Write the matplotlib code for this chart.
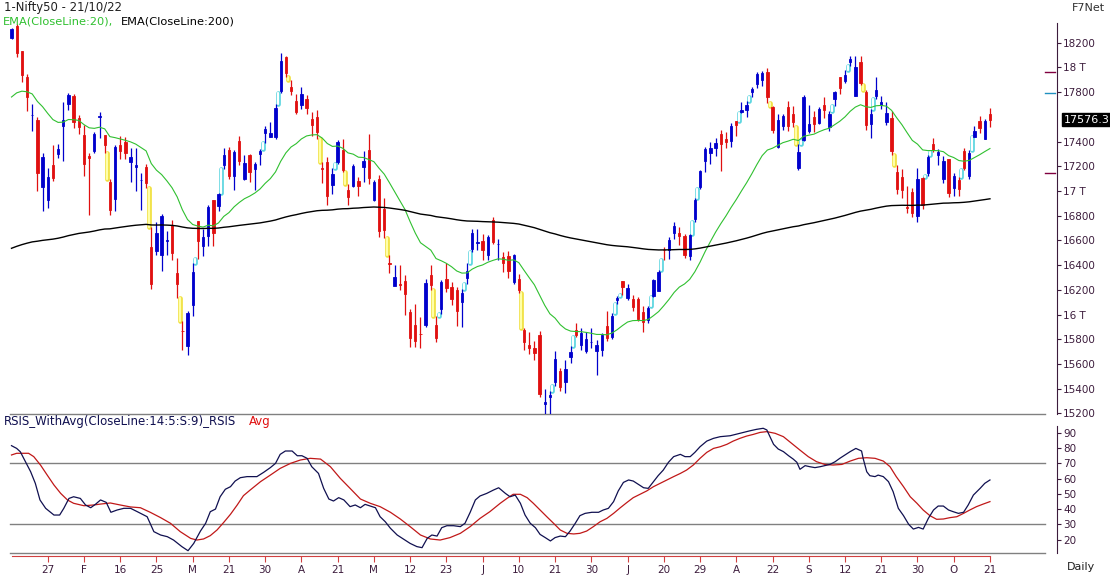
import numpy as np
import matplotlib.pyplot as plt

# ---- data: Nifty50 daily, 17 Jan 2022 .. 21 Oct 2022 (trading days) ----
opens = [
    18235, 18337, 18129, 17921, 17613, 17575, 17030, 16929, 17209, 17301,
    17529, 17706, 17767, 17590, 17456, 17279, 17320, 17600, 17451, 17076,
    16933, 17370, 17396, 17236, 17192, 17092, 17194, 16549, 16515, 16481,
    16593, 16723, 16339, 15868, 15747, 16078, 16758, 16557, 16633, 16923,
    16876, 17209, 17330, 17120, 17405, 17094, 17289, 17181, 17297, 17468,
    17436,
    17437, 17810, 18080, 17842, 17724, 17699, 17740, 17584, 17599, 17183,
    17234, 17045, 17234, 17329, 17009, 17043, 17079, 17190, 17329,
    16925, 17097, 16854, 16415, 16227, 16249, 16270, 16021, 15917, 15845,
    15912, 16318, 15917, 16043, 16290, 16225, 16197, 16105, 16296, 16527,
    16578,
    16594, 16481, 16761, 16570, 16469, 16474, 16263, 16284, 15877, 15750,
    15729, 15832, 15272, 15334, 15455, 15545, 15452, 15657, 15874, 15757,
    15701, 15774,
    15703, 15710, 15909, 15818, 16114, 16274, 16137, 16126, 16128, 16018,
    15954, 16151, 16187, 16523, 16523, 16661, 16662, 16632, 16475, 16775,
    17031,
    17243, 17310, 17349, 17463, 17424, 17402, 17566, 17641, 17659, 17797,
    17868, 17898, 17966, 17682, 17357, 17525, 17679, 17619, 17188, 17414,
    17485, 17599, 17546, 17696, 17519, 17748, 17923, 17890, 18044, 17771,
    18046, 17797, 17540, 17770, 17698, 17560, 17593, 17157, 17110, 16870,
    16993, 16798,
    17102, 17147, 17379, 17287, 17094, 17256, 17025, 17087, 17322, 17122,
    17438, 17568, 17423, 17622,
]
highs = [
    18321, 18350, 18129, 17943, 17707, 17600, 17309, 17182, 17373, 17380,
    17722, 17794, 17781, 17617, 17536, 17306, 17477, 17640, 17454, 17099,
    17375, 17443, 17438, 17351, 17351, 17148, 17220, 16705, 16748, 16815,
    16678, 16768, 16456, 15945, 16028, 16418, 16757, 16694, 16888, 16927,
    16987, 17344, 17353, 17331, 17442, 17291, 17295, 17235, 17343, 17522,
    17559,
    17703, 18114, 18095, 17901, 17787, 17842, 17779, 17639, 17652, 17238,
    17275, 17186, 17414, 17422, 17054, 17220, 17110, 17322, 17461,
    17092, 17132, 16945, 16484, 16404, 16404, 16318, 16041, 16084, 15977,
    16284, 16399, 15984, 16283, 16415, 16262, 16223, 16204, 16415, 16695,
    16690,
    16649, 16646, 16793, 16610, 16503, 16514, 16492, 16325, 15887, 15859,
    15783, 15863, 15400, 15382, 15708, 15565, 15628, 15749, 15928, 15892,
    15861, 15891,
    15793, 15852, 16025, 16011, 16150, 16275, 16248, 16158, 16140, 16070,
    16066, 16287, 16360, 16550, 16626, 16752, 16706, 16652, 16653, 16946,
    17172,
    17356, 17392, 17431, 17490, 17474, 17548, 17566, 17719, 17724, 17839,
    17965, 17969, 17992, 17690, 17625, 17626, 17726, 17685, 17381, 17777,
    17695, 17643, 17683, 17764, 17650, 17807, 17925, 17981, 18088, 18091,
    18096, 17820, 17667, 17919, 17772, 17722, 17643, 17211, 17176, 17037,
    17026, 17188,
    17114, 17287, 17429, 17337, 17280, 17261, 17142, 17112, 17348, 17328,
    17527, 17607, 17584, 17670,
]
lows = [
    18228, 18085, 17884, 17649, 17486, 16997, 16836, 16866, 17077, 17264,
    17244, 17658, 17511, 17462, 17119, 16809, 17306, 17427, 17303, 16809,
    16840, 17257, 17256, 17070, 16999, 16844, 17026, 16203, 16478, 16356,
    16478, 16442, 16133, 15711, 15672, 15990, 16447, 16470, 16555, 16556,
    16837, 17175, 17096, 17007, 17213, 17091, 17076, 17004, 17212, 17387,
    17435,
    17423, 17791, 17921, 17779, 17623, 17664, 17623, 17442, 17419, 17067,
    16888, 16978, 17216, 17150, 16888, 17032, 16958, 17071, 17054,
    16917, 16624, 16623, 16340, 16243, 16197, 15993, 15736, 15736, 15728,
    15900, 16202, 15775, 16003, 16185, 16078, 15904, 15903, 16246, 16506,
    16521,
    16438, 16444, 16567, 16444, 16347, 16293, 16243, 16172, 15711, 15679,
    15634, 15335, 15183, 15191, 15419, 15385, 15367, 15611, 15815, 15710,
    15688, 15729,
    15511, 15661, 15785, 15800, 16082, 16158, 16115, 16031, 15950, 15858,
    15928, 16142, 16187, 16440, 16446, 16611, 16564, 16457, 16438, 16748,
    17018,
    17154, 17216, 17279, 17161, 17348, 17359, 17442, 17631, 17597, 17764,
    17833, 17853, 17710, 17467, 17345, 17493, 17487, 17519, 17167, 17401,
    17468, 17476, 17540, 17587, 17485, 17691, 17786, 17871, 18015, 17771,
    17861, 17497, 17429, 17744, 17663, 17532, 17291, 16979, 16942, 16820,
    16789, 16747,
    16855, 17117, 17315, 17210, 17064, 16950, 16960, 16956, 17169, 17098,
    17434, 17472, 17421, 17520,
]
closes = [
    18308, 18113, 17938, 17757, 17617, 17149, 17278, 17110, 17102, 17340,
    17577, 17780, 17560, 17516, 17214, 17266, 17464, 17606, 17375, 16843,
    17352, 17322, 17304, 17276, 17207, 17092, 17063, 16248, 16658, 16794,
    16606, 16498, 16245, 15863, 16013, 16345, 16594, 16630, 16871, 16663,
    16975, 17287, 17118, 17316, 17246, 17223, 17153, 17222, 17325, 17498,
    17465,
    17670, 18053, 17957, 17807, 17640, 17784, 17675, 17530, 17476, 17174,
    16959, 17137, 17393, 17172, 16954, 17201, 17039, 17245, 17103,
    17069, 16678, 16683, 16411, 16302, 16240, 16167, 15808, 15782, 15842,
    16259, 16240, 15809, 16266, 16215, 16126, 16026, 16171, 16352, 16661,
    16585,
    16523, 16628, 16584, 16570, 16416, 16356, 16478, 16202, 15774, 15732,
    15692, 15360, 15294, 15350, 15639, 15413, 15557, 15699, 15832, 15850,
    15799, 15780,
    15752, 15835, 15810, 15990, 16133, 16220, 16216, 16058, 15967, 15938,
    16049, 16279, 16341, 16521, 16606, 16719, 16632, 16484, 16642, 16930,
    17158,
    17340, 17345, 17388, 17382, 17397, 17525, 17535, 17659, 17698, 17825,
    17944, 17956, 17758, 17491, 17577, 17605, 17522, 17559, 17313, 17760,
    17542, 17539, 17666, 17656, 17624, 17798, 17833, 17936, 18070, 18004,
    17877, 17531, 17622, 17816, 17718, 17630, 17327, 17016, 17007, 16858,
    16818, 17094,
    16887, 17274, 17331, 17315, 17241, 16983, 17124, 17014, 17186, 17311,
    17486, 17512, 17563, 17576.3,
]
ema20_first = 17760     # EMA values on the first bar
ema200_first = 16536

# smoothed RSI and its average (bar index, value)
rsi_x = [0, 1, 1.7, 2.7, 3.7, 4.6, 5.5, 6.6, 8.2, 9.3, 10.1, 11.1, 12, 13.3, 14.3, 15.3, 16.2, 17.2,
         18.3, 19.2, 20.4, 21.7, 23, 24.3, 26.2, 27.5, 28.8, 30.1, 31.3, 32.9, 34.1, 35.2, 36.5, 37.5,
         38.4, 39.4, 40.3, 41.3, 42.3, 43.2, 44.2, 45.5, 47.4, 48.7, 50, 51, 51.9, 52.9, 54.2, 55.2,
         56.1, 57.1, 58, 59.3, 60.3, 61.3, 62.2, 63.2, 64.2, 65.4, 66.4, 67.4, 68.3, 69.3, 70.3, 71.2,
         72.2, 73.2, 74.5, 75.7, 77, 78.3, 79.3, 80.3, 81.2, 82.2, 83.1, 84.1, 85.4, 86.7, 87.6, 88.6,
         89.6, 90.5, 91.8, 93.1, 94.1, 95.4, 96.3, 97.3, 98.3, 99.2, 100.2, 101.2, 102.1, 103.1, 104.1,
         105, 106, 107, 107.9, 108.9, 109.8, 110.8, 112.1, 113.4, 114.3, 115.3, 116.3, 117.2, 118.2,
         119.2, 120.1, 121.1, 122.1, 123, 124, 124.9, 125.9, 126.9, 127.9, 129.2, 130.1, 131.1, 132,
         133, 134.3, 135.6, 136.9, 138.8, 140.7, 142.7, 143.9, 145.2, 145.9, 146.5, 147.2, 148.1,
         149.1, 150.1, 151, 151.7, 152.3, 153.3, 154.2, 155.2, 156.2, 157.1, 158.1, 159.1, 160, 161,
         162, 163.1, 164.2, 164.5, 165.2, 165.8, 166.8, 167.4, 168.4, 169.4, 170.3, 171.3, 172.3,
         173.3, 174.2, 175.2, 176.1, 177.1, 178.1, 179, 180, 181, 181.9, 182.9, 183.9, 184.8, 185.8,
         187.1, 188, 189]
rsi_v = [81.6, 79.8, 77.6, 71, 64.5, 56.9, 46, 40.5, 36.1, 36.1, 40.5, 47, 48.1, 47, 42.7, 40.9, 43.1, 46,
         44.4, 37.9, 39.4, 40.5, 40.5, 38.3, 35, 25.2, 23, 21.9, 19.7, 15.4, 12.7, 17.5, 25.6, 30.7,
         38.3, 40, 48.1, 53, 54.7, 58.4, 60.6, 61.3, 61.3, 64.1, 67.2, 70, 75.9, 78.1, 78.1, 75,
         75, 73.3, 67.8, 63.4, 53.6, 46.6, 45.3, 47.5, 46, 41.6, 42.7, 40.9, 43.1, 42, 40.9, 35,
         31.7, 27.4, 23, 20.4, 17.5, 15.4, 14.7, 20.8, 23, 22.3, 27.8, 29.1, 29.1, 28.5, 30.7, 37.9,
         46, 48.6, 50.3, 52.5, 54, 50.3, 48.1, 49.2, 43.8, 36.1, 30.7, 27.8, 23.4, 21.3, 19.1,
         21.3, 22.3, 21.9, 25.6, 30.7, 35.7, 37.2, 37.9, 37.9, 39.4, 40.5, 44.9, 51.9, 57.5,
         59.1, 58.4, 56.2, 54, 53.6, 58, 61.9, 65.6, 70.7, 74.4, 75.9, 74.4, 74.4, 77.2,
         80.9, 84.6, 86.4, 87.5, 88.1, 89.7, 91.4, 92.3, 93, 91.9, 87.5, 82.5, 79.4,
         77.7, 75, 72.8, 70.7, 66.1, 68.5, 67.8, 67.2, 67.8, 68.5, 69.3, 71.1, 73.3, 75.5,
         77.7, 79.8, 78.1, 73.3, 64.5, 61.9, 61.3, 62.3, 61.3, 58, 51.4, 40.5, 35.7,
         30, 26.9, 28, 26.9, 33.9, 39.4, 42, 42, 39.4, 38.3, 37.2, 37.9, 42.7, 49.2,
         53.6, 56.9, 59.1]
avg_x = [0, 1, 3.3, 4.3, 5.6, 6.9, 8.2, 9.5, 10.8, 12, 14, 15.9, 17.2, 19.1, 21, 23, 24.9, 26.8, 28.8,
         30.7, 32.6, 34.6, 35.8, 37.1, 38.4, 39.7, 41, 42.3, 43.6, 44.8, 46.1, 48.1, 50, 51.9, 53.9,
         55.8, 57.7, 59.7, 61.6, 63.5, 65.4, 67.4, 69.3, 71.2, 73.2, 75.1, 77, 79, 80.9, 82.8, 84.7,
         86.7, 88.6, 90.5, 92.4, 94.4, 95.7, 96.9, 98.3, 99.6, 100.8, 102.1, 103.4, 104.7, 106,
         107.3, 108.6, 109.8, 111.1, 112.4, 113.7, 115, 116.3, 117.6, 118.9, 120.1, 121.4, 122.7,
         124, 125.3, 126.6, 127.9, 129.2, 130.4, 131.7, 133, 134.3, 135.6, 136.9, 138.2, 139.4,
         140.7, 142, 143.3, 144.6, 145.9, 147.5, 149.1, 150.7, 152.3, 153.9, 155.5, 157.1, 158.7,
         160.4, 162, 163.6, 165.2, 166.8, 168.4, 169.7, 170.9, 172.3, 173.6, 174.9, 176.1, 177.4,
         178.7, 180, 181.3, 182.6, 183.9, 185.1, 186.4, 187.7, 189]
avg_v = [75.5, 76.6, 76.6, 74.4, 68.9, 62.3, 55.8, 50.3, 46, 43.8, 42.2, 42.7, 43.3, 44, 42.7, 41.4, 40.9,
         37.9, 34.4, 30.7, 25.2, 20.8, 19.7, 20.4, 22.6, 26.3, 31.3, 36.6, 42.7, 48.8, 52.5, 58, 62.3,
         66.7, 70, 72.2, 73.3, 72.8, 67.8, 60.2, 53.6, 46.6, 43.8, 41.6, 37.9, 33.5, 28.5, 23, 20.4,
         19.7, 21.3, 24.1, 28.5, 33.9, 38.3, 43.8, 47, 49.7, 49.7, 47.5, 43.8, 39.4, 35, 30.7, 26.3,
         24.1, 23.7, 24.1, 25.6, 28.5, 31.7, 33.9, 37.2, 40.9, 44.4, 47.5, 49.7, 51.9, 54.7, 56.9,
         59.1, 61.3, 63.4, 65.6, 68.9, 73.3, 77.2, 79.8, 80.9, 82.5, 84.6, 86.4, 87.9, 89, 90.3,
         90.8, 89.7, 87.5, 83.1, 78.7, 74.4, 71.1, 69.3, 68.9, 69.3, 71.5, 73.3, 73.7, 73.3, 71.5,
         67.8, 61.3, 54.7, 48.1, 43.8, 39.4, 35.7, 33.3, 33.5, 34.4, 35, 37.2, 39.4, 41.6, 43.3,
         44.9]

date_labels = ['27', 'F', '16', '25', 'M', '21', '30', 'A', '21', 'M', '12', '23', 'J', '10',
               '21', '30', 'J', '20', '29', 'A', '22', 'S', '12', '21', '30', 'O', '21']
axis_marks = [17965, 17795, 17148]
axis_mark_colors = ['#800040', '#2090c0', '#800040']
last_close = closes[-1]

# ---- derived ----
n = len(closes)
xs = np.arange(n)
o, h, l, c = (np.array(a, dtype=float) for a in (opens, highs, lows, closes))


def ema(values, period, first):
    k = 2.0 / (period + 1)
    out = [first]
    for v in values[1:]:
        out.append(out[-1] + k * (v - out[-1]))
    return np.array(out)


ema20 = ema(c, 20, ema20_first)
ema200 = ema(c, 200, ema200_first)

# ---- layout (pixel based) ----
W, H = 1110, 576
fig = plt.figure(figsize=(W / 100, H / 100), dpi=100)


def rect(x0, y0, x1, y1):
    return [x0 / W, 1 - y1 / H, (x1 - x0) / W, (y1 - y0) / H]


x0_px, step_px = 11.5, 5.177
xlim = (-x0_px / step_px, (1057 - x0_px) / step_px)
line_end = (1045 - x0_px) / step_px
line_start = (10 - x0_px) / step_px

axcol = '#3c1c3c'
blue, red = '#0000cc', '#e01010'
fs = 7.5

ax = fig.add_axes(rect(0, 23, 1057, 414))
ax_r = fig.add_axes(rect(0, 426, 1057, 553))

# price panel
ylo, yhi = 15195, 18359
ax.set_xlim(*xlim)
ax.set_ylim(ylo, yhi)
cols = np.where(c >= o, blue, red)
ax.vlines(xs, l, h, colors=cols, lw=0.9, zorder=3)
ax.bar(xs, np.abs(c - o), bottom=np.minimum(o, c), width=0.45, color=cols,
       edgecolor=cols, linewidth=0.6, zorder=4)

# gap zones between consecutive bars
for i in range(1, n):
    if l[i] > h[i - 1]:
        ax.plot([i - 0.5, i - 0.5], [h[i - 1], l[i]], color='#5cd6e0', lw=3.4,
                solid_capstyle='round', zorder=2)
        ax.plot([i - 0.5, i - 0.5], [h[i - 1], l[i]], color='white', lw=1.6,
                solid_capstyle='round', zorder=2)
    elif h[i] < l[i - 1]:
        ax.plot([i - 0.5, i - 0.5], [h[i], l[i - 1]], color='#f0e040', lw=3.4,
                solid_capstyle='round', zorder=2)
        ax.plot([i - 0.5, i - 0.5], [h[i], l[i - 1]], color='#ffffa8', lw=1.6,
                solid_capstyle='round', zorder=2)

ax.plot(xs, ema20, color='#30c030', lw=0.8, zorder=5)
ax.plot(xs, ema200, color='black', lw=1.0, zorder=5)
ax.plot([line_start, line_end], [ylo, ylo], color='#808080', lw=1, clip_on=False)

for v, col in zip(axis_marks, axis_mark_colors):
    ax.plot([line_end, line_end + 1.9], [v, v], color=col, lw=1, clip_on=False)

yt = [v for v in range(15200, 18201, 200) if v != 17600]
ax.set_yticks(yt)
ax.set_yticklabels([f'{v // 1000} T' if v % 1000 == 0 else str(v) for v in yt])
ax.yaxis.tick_right()
ax.tick_params(axis='y', direction='out', length=3, width=0.8, color=axcol,
               labelcolor=axcol, labelsize=fs, pad=1.5)
ax.set_xticks([])
for s in ('left', 'top', 'bottom'):
    ax.spines[s].set_visible(False)
ax.spines['right'].set_color(axcol)
ax.text(1.006, last_close, f'{last_close:.1f}', transform=ax.get_yaxis_transform(),
        color='white', fontsize=8, va='center', ha='left',
        bbox=dict(boxstyle='square,pad=0.15', fc='black', ec='black'))

# RSI panel
ax_r.set_xlim(*xlim)
ax_r.set_ylim(11.2, 94.5)
for lev in (70, 30):
    ax_r.plot([line_start, line_end], [lev, lev], color='#808080', lw=1)
ax_r.plot([line_start, line_end], [11.2, 11.2], color='#808080', lw=1, clip_on=False)
ax_r.plot(avg_x, avg_v, color='#c01818', lw=0.9)
ax_r.plot(rsi_x, rsi_v, color='#101050', lw=0.9)
ax_r.set_yticks(range(20, 91, 10))
ax_r.yaxis.tick_right()
ax_r.tick_params(axis='y', direction='out', length=3, width=0.8, color=axcol,
                 labelcolor=axcol, labelsize=fs, pad=1.5)
tick_pos = [7 + 7 * k for k in range(len(date_labels))]
ax_r.set_xticks(tick_pos)
ax_r.set_xticklabels(date_labels)
ax_r.tick_params(axis='x', direction='out', length=4, width=0.8, color='#d04040',
                 labelcolor=axcol, labelsize=fs, pad=2)
for s in ('left', 'top'):
    ax_r.spines[s].set_visible(False)
ax_r.spines['right'].set_color(axcol)
ax_r.spines['bottom'].set_color('#d04040')
ax_r.spines['bottom'].set_position(('outward', 2.5))
ax_r.spines['bottom'].set_bounds(0, n - 1)

# texts
fig.text(4 / W, 1 - 8 / H, '1-Nifty50 - 21/10/22', fontsize=8.4, color='#202020', va='center')
fig.text(3 / W, 1 - 22 / H, 'EMA(CloseLine:20),', fontsize=8.2, color='#30c030', va='center')
fig.text(121 / W, 1 - 22 / H, 'EMA(CloseLine:200)', fontsize=8.2, color='black', va='center')
fig.text(1105 / W, 1 - 8 / H, 'F7Net', fontsize=8, color='#303030', va='center', ha='right')
fig.text(4 / W, 1 - 421 / H, 'RSIS_WithAvg(CloseLine:14:5:S:9)_RSIS', fontsize=8.5,
         color='#101050', va='center')
fig.text(249 / W, 1 - 421 / H, 'Avg', fontsize=8.5, color='#e01010', va='center')
fig.text(1095 / W, 1 - 567 / H, 'Daily', fontsize=8, color='#202020', va='center', ha='right')

fig.savefig('out.png', dpi=100)
